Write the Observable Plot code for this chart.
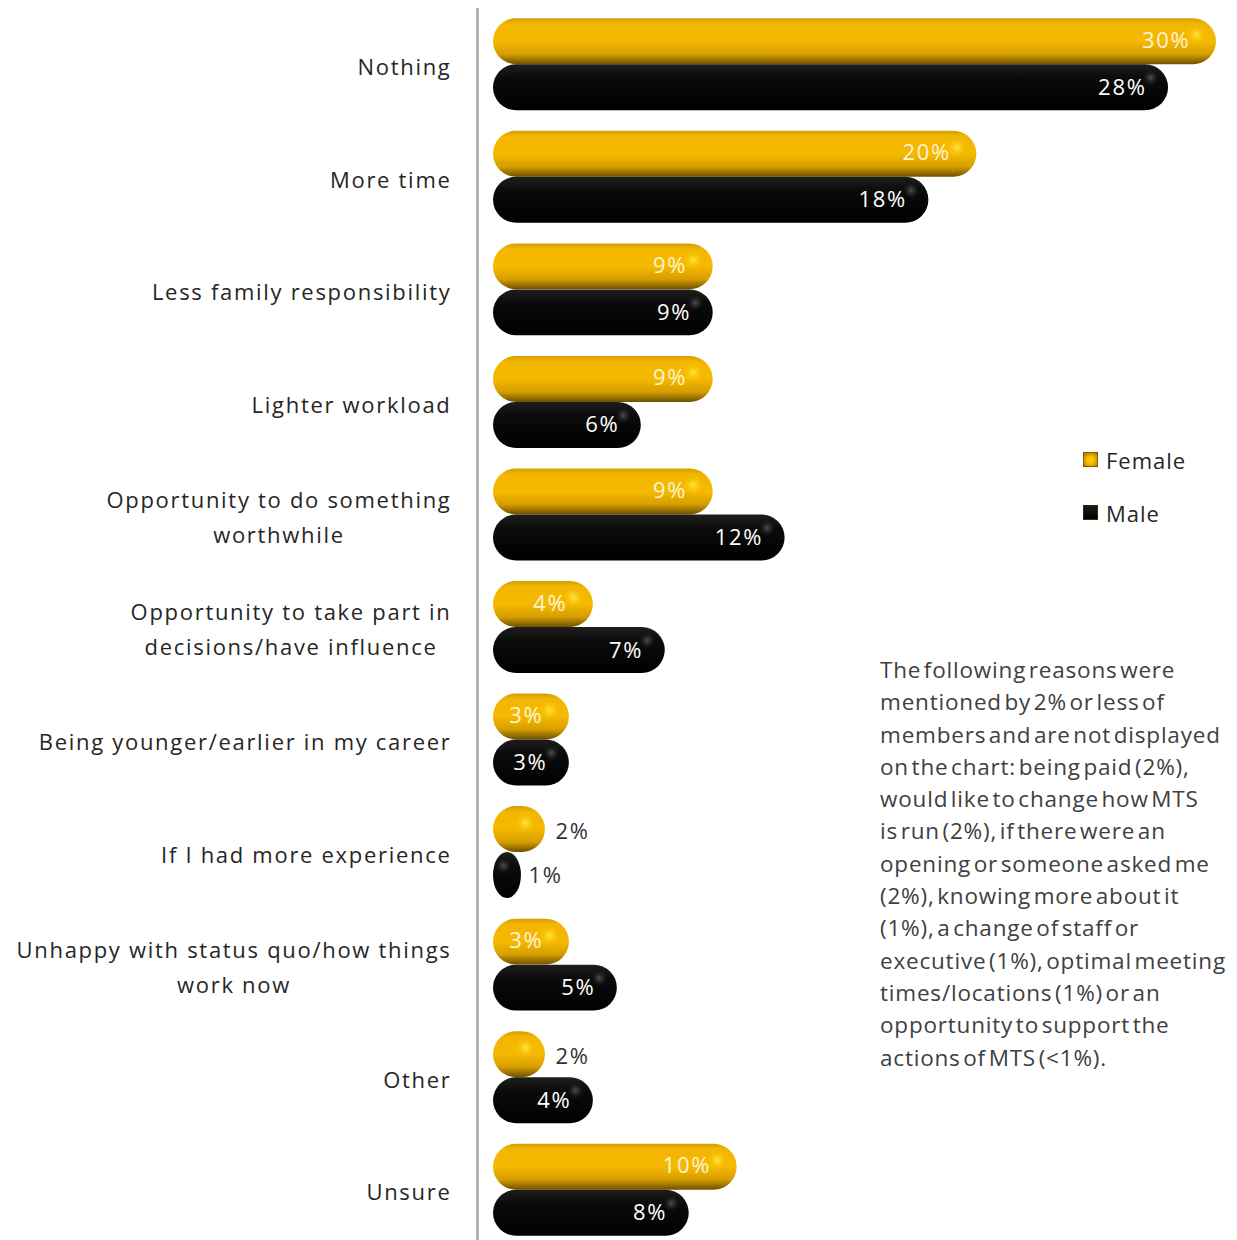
<!DOCTYPE html>
<html><head><meta charset="utf-8">
<script src="https://cdn.jsdelivr.net/npm/d3@7"></script>
<script src="https://cdn.jsdelivr.net/npm/@observablehq/plot@0.6"></script>
<style>
body{margin:0;background:#fff;}
#wrap{position:relative;width:1237px;height:1240px;overflow:hidden;font-family:"Open Sans",sans-serif;}
#legend{position:absolute;left:1083px;top:446px;font-size:22px;color:#262626;letter-spacing:1px;}
#legend .item{display:flex;align-items:center;height:27px;margin-bottom:26px;}
#legend .sw{width:15px;height:15px;margin-right:8px;box-sizing:border-box;border:1px solid rgba(90,60,0,0.6);}
#note{position:absolute;left:880px;top:654px;font-size:22.5px;line-height:32.3px;color:#404040;white-space:pre;letter-spacing:0.8px;word-spacing:-4px;}
</style></head><body><div id="wrap"></div>
<script>
const categories = ["Nothing","More time","Less family responsibility","Lighter workload","Opportunity to do something worthwhile","Opportunity to take part in decisions/have influence","Being younger/earlier in my career","If I had more experience","Unhappy with status quo/how things work now","Other","Unsure"];
const categoryLabels = ["Nothing","More time","Less family responsibility","Lighter workload","Opportunity to do something\nworthwhile","Opportunity to take part in\ndecisions/have influence","Being younger/earlier in my career","If I had more experience","Unhappy with status quo/how things\nwork now","Other","Unsure"];
const female = [30,20,9,9,9,4,3,2,3,2,10];
const male = [28,18,9,6,12,7,3,1,5,4,8];
const seriesNames = ["Female","Male"];
const noteLines = ["The following reasons were","mentioned by 2% or less of","members and are not displayed","on the chart: being paid (2%),","would like to change how MTS","is run (2%), if there were an","opening or someone asked me","(2%), knowing more about it","(1%), a change of staff or","executive (1%), optimal meeting","times/locations (1%) or an","opportunity to support the","actions of MTS (<1%)."];

const rows = categories.map((c,i)=>({category:c, label:categoryLabels[i], female:female[i], male:male[i]}));
const fmt = v => v + "%";

const FONT = "Open Sans";
const LS = 1.7;
const FS = 22;
const ctx = document.createElement("canvas").getContext("2d");
ctx.font = `${FS}px "${FONT}"`;
let hasLS = false;
try { ctx.letterSpacing = LS + "px"; hasLS = ctx.letterSpacing === LS + "px"; } catch(e) {}
const measure = s => ctx.measureText(s).width + (hasLS ? 0 : LS * s.length);

const labelMarks = rows.map(r => {
  const w = Math.max(...r.label.split("\n").map(measure));
  return Plot.text([r], {y:"category", text:"label", frameAnchor:"left", dx:-46 - w/2, dy:-1, textAnchor:"middle", lineHeight:1.6, fontSize:FS, fill:"#262626"});
});

const chart = Plot.plot({
  width:1237, height:1240,
  marginLeft:497, marginRight:21, marginTop:8, marginBottom:0,
  style:{fontFamily:FONT, letterSpacing:LS+"px", background:"transparent"},
  x:{domain:[0,30], axis:null},
  y:{domain:categories, range:[8,1246], paddingInner:0.183, paddingOuter:0.0915, round:false, axis:null},
  marks:[
    Plot.ruleX([0], {dx:-20, stroke:"#a6a6a6", strokeWidth:2.5}),
    Plot.barX(rows, {y:"category", x:"female", insetBottom:46, insetLeft:-4, fill:"url(#gGold)", rx:23, ry:23}),
    Plot.barX(rows, {y:"category", x:"male", insetTop:46, insetLeft:-4, fill:"url(#gBlack)", rx:23, ry:23}),
    Plot.dot(rows, {y:"category", x:"female", dx:-20, dy:-30, r:11, fill:"url(#spotGold)"}),
    Plot.dot(rows, {y:"category", x:"male", dx:-18, dy:13, r:10, fill:"url(#spotBlack)"}),
    Plot.text(rows.filter(d=>d.female>2), {y:"category", x:"female", text:d=>fmt(d.female), dx:-26, dy:-24, textAnchor:"end", fontSize:22, fill:"#fff4d6"}),
    Plot.text(rows.filter(d=>d.female<=2), {y:"category", x:"female", text:d=>fmt(d.female), dx:10, dy:-21, textAnchor:"start", fontSize:22, fill:"#333"}),
    Plot.text(rows.filter(d=>d.male>2), {y:"category", x:"male", text:d=>fmt(d.male), dx:-22, dy:23, textAnchor:"end", fontSize:22, fill:"#ffffff"}),
    Plot.text(rows.filter(d=>d.male<=2), {y:"category", x:"male", text:d=>fmt(d.male), dx:7, dy:23, textAnchor:"start", fontSize:22, fill:"#333"}),
    ...labelMarks
  ]
});

d3.select(chart).insert("defs", ":first-child").html(`
  <linearGradient id="gGold" x1="0" y1="0" x2="0" y2="1">
    <stop offset="0" stop-color="#d49e00"/>
    <stop offset="0.12" stop-color="#f2b600"/>
    <stop offset="0.5" stop-color="#f5b900"/>
    <stop offset="0.78" stop-color="#d69e00"/>
    <stop offset="1" stop-color="#6e5000"/>
  </linearGradient>
  <linearGradient id="gBlack" x1="0" y1="0" x2="0" y2="1">
    <stop offset="0" stop-color="#1e1e1e"/>
    <stop offset="0.3" stop-color="#0b0b0b"/>
    <stop offset="1" stop-color="#000"/>
  </linearGradient>
  <radialGradient id="spotGold">
    <stop offset="0" stop-color="#ffe84a" stop-opacity="1"/>
    <stop offset="0.45" stop-color="#ffd21a" stop-opacity="0.55"/>
    <stop offset="1" stop-color="#f5b900" stop-opacity="0"/>
  </radialGradient>
  <radialGradient id="spotBlack">
    <stop offset="0" stop-color="#5a5a5a" stop-opacity="0.9"/>
    <stop offset="1" stop-color="#000" stop-opacity="0"/>
  </radialGradient>`);

const wrap = document.getElementById("wrap");
wrap.appendChild(chart);

const legend = document.createElement("div");
legend.id = "legend";
const swatch = {Female:"radial-gradient(circle at 50% 55%,#ffd21a 0%,#f5b900 40%,#a07400 100%)", Male:"linear-gradient(180deg,#1c1c1c,#000)"};
seriesNames.forEach(n => {
  const it = document.createElement("div"); it.className = "item";
  const sw = document.createElement("div"); sw.className = "sw"; sw.style.background = swatch[n];
  const t = document.createElement("span"); t.textContent = n;
  it.appendChild(sw); it.appendChild(t); legend.appendChild(it);
});
wrap.appendChild(legend);

const note = document.createElement("div");
note.id = "note";
note.textContent = noteLines.join("\n");
wrap.appendChild(note);
</script></body></html>
